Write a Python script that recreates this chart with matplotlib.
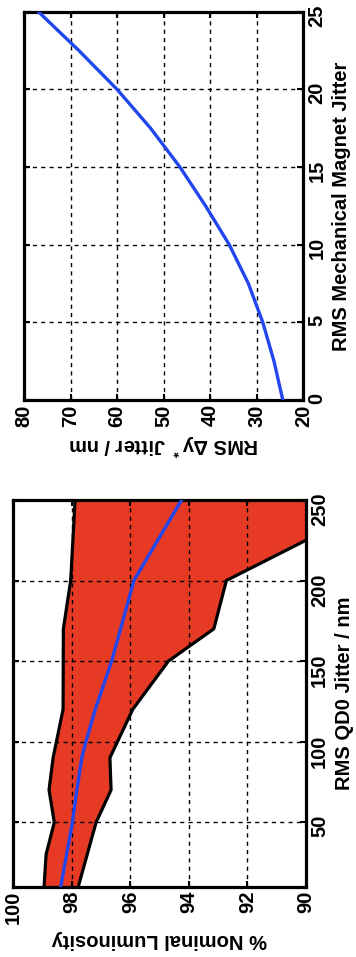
import numpy as np
import matplotlib
matplotlib.use('Agg')
import matplotlib.pyplot as plt

plt.rcParams['font.family'] = ['Liberation Sans', 'DejaVu Sans']
plt.rcParams['font.weight'] = 'bold'
plt.rcParams['axes.labelweight'] = 'bold'
plt.rcParams['font.size'] = 14.5
plt.rcParams['mathtext.fontset'] = 'custom'
plt.rcParams['mathtext.rm'] = 'Liberation Sans:bold'
plt.rcParams['mathtext.bf'] = 'Liberation Sans:bold'
plt.rcParams['mathtext.default'] = 'bf'

# top panel: RMS mechanical magnet jitter vs RMS dy* jitter
mech_jitter = [0, 2.5, 5, 7.5, 10, 12.5, 15, 17.5, 20, 22.5, 25]
dy_jitter = [24.4, 26.3, 28.7, 31.8, 35.9, 41.0, 46.5, 52.8, 60.0, 68.2, 76.9]

# bottom panel: luminosity band vs RMS QD0 jitter
qd0_hi = [10, 30, 50, 70, 90, 120, 170, 200, 250]
lum_hi = [98.95, 98.88, 98.60, 98.78, 98.64, 98.30, 98.29, 98.04, 97.89]
qd0_lo = [10, 50, 70, 90, 120, 150, 170, 200, 225, 250]
lum_lo = [97.78, 97.17, 96.66, 96.70, 95.92, 94.70, 93.15, 92.72, 90.0, 87.3]
qd0_mean = [10, 50, 70, 90, 100, 120, 150, 200, 250]
lum_mean = [98.38, 97.98, 97.83, 97.66, 97.52, 97.20, 96.64, 95.88, 94.25]

red = '#e63a25'
blue = '#2246ee'

fig = plt.figure(figsize=(3.56, 9.57), dpi=100)


def style(ax):
    ax.grid(True, color='black', linestyle=(0, (3, 3)), linewidth=1.0)
    ax.tick_params(which='both', direction='in', length=4, width=1.5, pad=3,
                   top=True, right=True, left=True, bottom=True,
                   labelleft=False, labelright=True, labelrotation=90)
    for s in ax.spines.values():
        s.set_linewidth(2.3)
    ax.yaxis.set_label_position('right')


# top panel (drawn rotated: horizontal = dy*, vertical = mechanical jitter)
ax1 = fig.add_axes([0.0674, 0.582, 0.7846, 0.4057])
ax1.plot(dy_jitter, mech_jitter, color=blue, lw=2.4, zorder=3)
ax1.set_xlim(80, 20)
ax1.set_ylim(0, 25)
ax1.set_xticks([80, 70, 60, 50, 40, 30, 20])
ax1.set_yticks([0, 5, 10, 15, 20, 25])
style(ax1)
ax1.set_xlabel('RMS Δy$^*$ Jitter / nm', rotation=180, labelpad=4)
ax1.set_ylabel('RMS Mechanical Magnet Jitter', rotation=90, labelpad=4)

# bottom panel (horizontal = luminosity, vertical = QD0 jitter)
ax2 = fig.add_axes([0.0374, 0.0735, 0.8222, 0.4041])
ax2.fill(np.r_[lum_hi, lum_lo[::-1]], np.r_[qd0_hi, qd0_lo[::-1]],
         color=red, lw=0, zorder=1)
ax2.plot(lum_hi, qd0_hi, color='black', lw=2.3, zorder=3)
ax2.plot(lum_lo, qd0_lo, color='black', lw=2.3, zorder=3)
ax2.plot(lum_mean, qd0_mean, color=blue, lw=2.4, zorder=4)
ax2.set_xlim(100, 90)
ax2.set_ylim(10, 250)
ax2.set_xticks([100, 98, 96, 94, 92, 90])
ax2.set_yticks([50, 100, 150, 200, 250])
style(ax2)
ax2.set_axisbelow(False)
ax2.set_xlabel('% Nominal Luminosity', rotation=180, labelpad=4)
ax2.set_ylabel('RMS QD0 Jitter / nm', rotation=90, labelpad=4)

fig.savefig('out.png', dpi=100)
